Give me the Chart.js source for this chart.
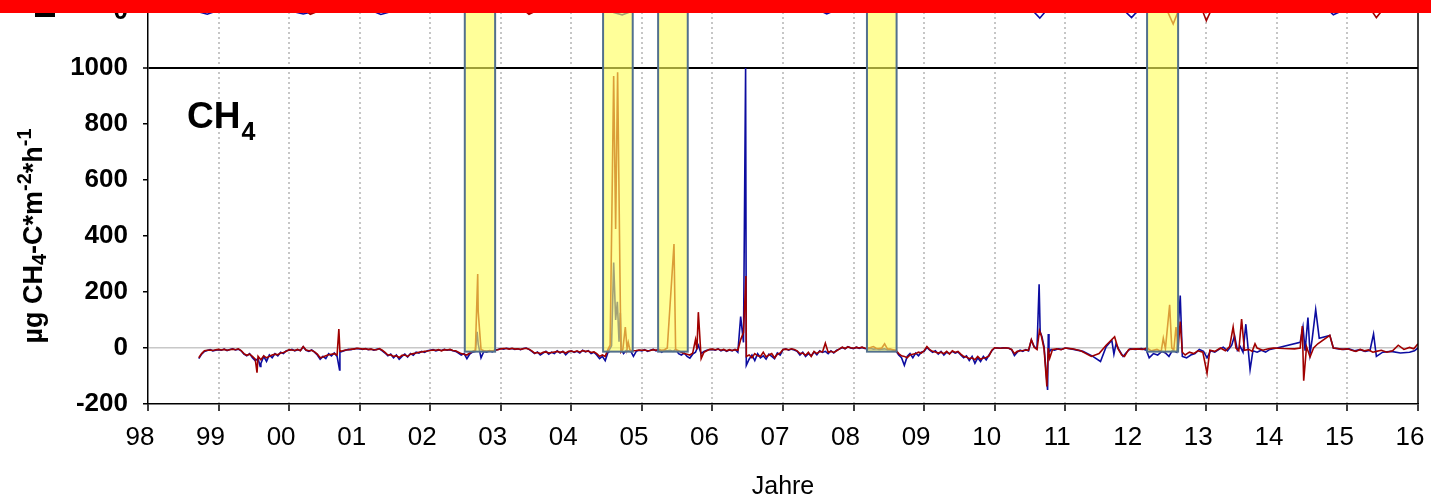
<!DOCTYPE html>
<html>
<head>
<meta charset="utf-8">
<title>CH4 Flüsse</title>
<script src="https://cdn.jsdelivr.net/npm/chart.js@4.4.1/dist/chart.umd.min.js"></script>
<style>
  html, body { margin: 0; padding: 0; background: #ffffff; }
  #chart { display: block; }
</style>
</head>
<body>
<canvas id="chart" width="1431" height="497"></canvas>
<script>
// ---- measurement dates (decimal years), dense period 1998-2010 ----
const datesDense = [
  1998.72,1998.76,1998.80,1998.84,1998.88,1998.92,1998.96,
  1999.00,1999.04,1999.08,1999.12,1999.16,1999.20,1999.24,1999.28,1999.32,1999.36,1999.40,1999.44,1999.48,1999.52,1999.56,1999.60,1999.64,1999.68,1999.72,1999.76,1999.80,1999.84,1999.88,1999.92,1999.96,
  2000.00,2000.04,2000.08,2000.12,2000.16,2000.20,2000.24,2000.28,2000.32,2000.36,2000.40,2000.44,2000.48,2000.52,2000.56,2000.60,2000.64,2000.68,2000.72,2000.76,2000.80,2000.84,2000.88,2000.92,2000.96,
  2001.00,2001.04,2001.08,2001.12,2001.16,2001.20,2001.24,2001.28,2001.32,2001.36,2001.40,2001.44,2001.48,2001.52,2001.56,2001.60,2001.64,2001.68,2001.72,2001.76,2001.80,2001.84,2001.88,2001.92,2001.96,
  2002.00,2002.04,2002.08,2002.12,2002.16,2002.20,2002.24,2002.28,2002.32,2002.36,2002.40,2002.44,2002.48,2002.52,2002.56,2002.60,2002.64,2002.68,2002.72,2002.76,2002.80,2002.84,2002.88,2002.92,2002.96,
  2003.00,2003.04,2003.08,2003.12,2003.16,2003.20,2003.24,2003.28,2003.32,2003.36,2003.40,2003.44,2003.48,2003.52,2003.56,2003.60,2003.64,2003.68,2003.72,2003.76,2003.80,2003.84,2003.88,2003.92,2003.96,
  2004.00,2004.04,2004.08,2004.12,2004.16,2004.20,2004.24,2004.28,2004.32,2004.36,2004.40,2004.44,2004.48,2004.52,2004.56,2004.60,2004.64,2004.68,2004.72,2004.76,2004.80,2004.84,2004.88,2004.92,2004.96,
  2005.00,2005.04,2005.08,2005.12,2005.16,2005.20,2005.24,2005.28,2005.32,2005.36,2005.40,2005.44,2005.48,2005.52,2005.56,2005.60,2005.64,2005.68,2005.72,2005.76,2005.80,2005.84,2005.88,2005.92,2005.96,
  2006.00,2006.04,2006.08,2006.12,2006.16,2006.20,2006.24,2006.28,2006.32,2006.36,2006.40,2006.44,2006.48,2006.52,2006.56,2006.60,2006.64,2006.68,2006.72,2006.76,2006.80,2006.84,2006.88,2006.92,2006.96,
  2007.00,2007.04,2007.08,2007.12,2007.16,2007.20,2007.24,2007.28,2007.32,2007.36,2007.40,2007.44,2007.48,2007.52,2007.56,2007.60,2007.64,2007.68,2007.72,2007.76,2007.80,2007.84,2007.88,2007.92,2007.96,
  2008.00,2008.04,2008.08,2008.12,2008.16,2008.20,2008.24,2008.28,2008.32,2008.36,2008.40,2008.44,2008.48,2008.52,2008.56,2008.60,2008.64,2008.68,2008.72,2008.76,2008.80,2008.84,2008.88,2008.92,2008.96,
  2009.00,2009.04,2009.08,2009.12,2009.16,2009.20,2009.24,2009.28,2009.32,2009.36,2009.40,2009.44,2009.48,2009.52,2009.56,2009.60,2009.64,2009.68,2009.72,2009.76,2009.80,2009.84,2009.88,2009.92,2009.96,
  2010.00,2010.04,2010.08,2010.12,2010.16,2010.20,2010.24,2010.28,2010.32,2010.36,2010.40,2010.44,2010.48
];

// CH4 flux (µg CH4-C m-2 h-1), blue series, on datesDense (null = taken from extras)
const blueDense = [
  -38,-22,-12,-9,-6,-10,-8,
  -6,-8,-4,-9,-5,-3,-7,-4,-10,-22,-28,-20,-35,-45,-38,-55,-30,-48,-25,-35,-20,-28,-15,-20,-10,
  -8,-5,-10,-6,-9,4,-8,-12,-7,-15,-25,-40,-30,-38,-20,-28,-18,-30,-15,-12,-8,-5,-6,-3,-2,
  -3,-5,-2,-6,-4,-8,-5,-3,-10,-18,-28,-22,-35,-25,-40,-30,-22,-32,-20,-26,-15,-18,-12,-16,-10,
  -8,-6,-10,-7,-9,-5,-8,-6,-10,-12,-18,-25,-20,-38,-22,-15,-12,15,-35,-12,-15,-10,-14,-8,-5,
  -2,-4,-1,-3,-2,-5,-3,-6,-2,0,-5,-12,-20,-14,-25,-18,-12,-22,-15,-20,-10,-18,-12,-24,-14,
  -10,-16,-12,-18,-8,-14,-10,-20,-15,-25,-38,-30,-45,-15,null,null,null,null,null,null,null,-10,-30,-12,-8,
  -10,-6,-12,-8,-5,-10,-6,-15,-8,-10,-8,-12,-5,-20,-25,-18,-30,-36,-22,-15,10,-20,-12,-8,-6,
  -5,-8,-3,-10,-6,-12,-7,-10,-5,-15,112,20,-62,-40,-25,-45,-20,-35,-28,-40,-22,-30,-38,-18,-25,
  -6,-3,-8,-4,-7,-12,-25,-15,-30,-20,-28,-14,-24,-10,-16,-12,-20,-10,-18,-8,-4,2,-3,5,0,
  -2,3,-1,2,-2,-3,-2,-4,-3,-5,-4,-3,-6,-5,-8,-10,-25,-35,-62,-30,-20,-35,-18,-28,-15,
  -12,2,-8,-15,-10,-22,-12,-25,-15,-20,-12,-18,-14,-25,-35,-28,-45,-30,-55,-35,-48,-30,-42,-25,-10,
  0,0,-1,1,0,-1,-6,-27,-15,-8,-12,-6,-10
];

// CH4 flux, red series, on datesDense
const redDense = [
  -35,-20,-10,-8,-7,-9,-6,
  -5,-7,-5,-8,-6,-4,-6,-3,-9,-20,-26,-22,-30,-40,-30,-42,-28,-35,-30,-25,-22,-24,-18,-16,-12,
  -6,-7,-9,-5,-10,5,-7,-10,-8,-14,-22,-35,-32,-28,-24,-22,-20,-25,-12,-10,-7,-6,-4,-4,-1,
  -2,-4,-3,-5,-4,-6,-6,-2,-8,-16,-25,-24,-30,-28,-34,-26,-25,-30,-22,-20,-18,-15,-14,-12,-11,
  -9,-7,-8,-6,-10,-6,-7,-5,-9,-10,-15,-20,-22,-25,-18,-12,-8,130,-5,-10,-12,-9,-11,-7,-6,
  -3,-2,-2,-4,-1,-4,-3,-5,-3,-1,-4,-10,-18,-16,-20,-15,-14,-18,-16,-14,-12,-15,-13,-18,-12,
  -11,-14,-10,-15,-9,-12,-11,-16,-14,-20,-30,-25,-30,-5,null,null,null,null,null,null,null,-8,-10,-9,-7,
  -8,-7,-10,-9,-6,-8,-5,-8,-6,0,null,null,null,-10,-15,-20,-22,-25,-18,30,128,-38,-15,-10,-5,
  -4,-6,-4,-8,-5,-10,-6,-9,-6,-8,30,55,-30,-25,-35,-20,-28,-30,-15,-32,-25,-20,-35,-22,-18,
  -5,-4,-6,-3,-5,-10,-20,-18,-26,-15,-30,-12,-20,-12,-14,17,-15,-12,-16,-10,-3,3,-2,4,1,
  -1,2,0,3,-1,0,2,5,-1,-2,0,15,-3,-4,-6,-8,-20,-28,-30,-35,-25,-22,-20,-15,-18,
  -10,5,-6,-12,-14,-18,-15,-20,-12,-22,-10,-16,-12,-22,-30,-32,-38,-35,-42,-30,-40,-36,-34,-28,-8,
  1,0,-1,0,1,-1,-5,-20,-12,-10,-9,-7,-8
];

// single peaks between regular dates and the sparser record from 2010.5 on: [year, flux]
const blueExtra = [
  [1999.59,-66],[2000.715,-78],[2002.665,58],
  [2004.53,-10],[2004.57,8],[2004.60,305],[2004.628,100],[2004.652,165],[2004.676,22],[2004.694,126],[2004.708,-5],[2004.74,-20],[2004.78,-8],[2004.82,-12],
  [2006.47,1000],
  [2010.52,28],[2010.56,5],[2010.60,-2],[2010.63,228],[2010.645,58],[2010.67,40],[2010.70,5],[2010.75,-150],[2010.76,50],[2010.77,-15],[2010.80,-5],[2010.85,-8],[2010.90,-3],[2010.95,-5],
  [2011.00,0],[2011.12,-5],[2011.25,-12],[2011.38,-28],[2011.50,-48],[2011.58,5],[2011.66,28],[2011.69,-22],[2011.72,15],[2011.77,-10],[2011.82,-30],[2011.87,-15],[2011.92,-3],
  [2012.00,-5],[2012.08,-2],[2012.15,-8],[2012.19,-35],[2012.25,-20],[2012.31,-25],[2012.37,-12],[2012.42,-18],[2012.47,-30],[2012.52,-8],[2012.58,-15],[2012.63,187],[2012.66,-30],[2012.72,-35],[2012.78,-25],[2012.84,-20],[2012.90,-5],[2012.96,-12],
  [2013.01,-35],[2013.06,-10],[2013.12,-15],[2013.18,-5],[2013.24,3],[2013.30,-10],[2013.36,10],[2013.40,44],[2013.44,-8],[2013.48,5],[2013.52,-15],[2013.56,85],[2013.62,-77],[2013.66,-10],[2013.72,-15],[2013.78,-8],[2013.84,-15],[2013.90,-5],
  [2014.00,0],[2014.33,20],[2014.37,75],[2014.40,-10],[2014.44,109],[2014.47,-20],[2014.50,32],[2014.55,137],[2014.60,35],[2014.75,45],[2014.80,0],[2014.88,-3],[2014.95,-5],
  [2015.02,-3],[2015.10,-10],[2015.18,-6],[2015.25,-12],[2015.32,-8],[2015.37,50],[2015.41,-30],[2015.50,-15],[2015.62,-12],[2015.75,-18],[2015.88,-15],[2015.95,-10],[2016.00,0]
];

const redExtra = [
  [1999.545,-88],[2000.705,68],[2002.673,264],
  [2004.55,10],[2004.60,971],[2004.628,425],[2004.656,985],[2004.689,268],[2004.703,-14],[2004.73,-5],[2004.765,75],[2004.79,-2],[2004.807,20],[2004.83,-6],
  [2005.455,371],[2005.478,-5],[2005.78,-5],
  [2006.475,257],
  [2010.52,30],[2010.56,3],[2010.60,-5],[2010.635,62],[2010.66,45],[2010.70,-3],[2010.74,-137],[2010.76,0],[2010.78,-36],[2010.82,-5],[2010.88,-3],[2010.94,-6],
  [2011.00,0],[2011.10,-3],[2011.22,-10],[2011.37,-30],[2011.48,-20],[2011.58,10],[2011.70,40],[2011.75,-3],[2011.80,-25],[2011.84,-30],[2011.90,-5],
  [2012.00,-3],[2012.10,-5],[2012.16,0],[2012.22,-10],[2012.30,-5],[2012.36,-12],[2012.39,35],[2012.42,-2],[2012.48,154],[2012.51,0],[2012.54,-5],[2012.57,75],[2012.60,0],[2012.63,94],[2012.66,-15],[2012.70,-25],[2012.76,-15],[2012.82,-20],[2012.88,-10],[2012.95,-15],
  [2013.01,-90],[2013.05,-8],[2013.12,-12],[2013.20,0],[2013.27,-10],[2013.33,5],[2013.38,75],[2013.42,0],[2013.46,-10],[2013.50,103],[2013.54,-8],[2013.60,-5],[2013.65,-12],[2013.69,15],[2013.72,0],[2013.80,-8],[2013.88,-3],[2013.95,0],
  [2014.10,-2],[2014.25,-3],[2014.33,0],[2014.36,78],[2014.38,-117],[2014.42,5],[2014.47,-32],[2014.52,0],[2014.58,15],[2014.75,45],[2014.80,0],[2014.86,-2],[2014.92,-5],
  [2015.00,-3],[2015.06,-8],[2015.12,-12],[2015.18,-5],[2015.24,-10],[2015.30,-7],[2015.36,-15],[2015.41,-12],[2015.48,-8],[2015.56,-15],[2015.64,-10],[2015.72,10],[2015.80,-5],[2015.88,2],[2015.94,-3],[2016.00,15]
];

// upper panel (its zero sits at 1200 on this axis): only the downward peaks reach into view
const upperBlue = [
  [1998.70,1202],[1998.84,1192],[1998.95,1202],[2000.05,1202],[2000.20,1193],[2000.35,1202],[2001.20,1202],[2001.30,1191],[2001.45,1202],
  [2004.55,1202],[2004.72,1190],[2004.85,1202],[2007.55,1202],[2007.62,1193],[2007.70,1202],[2010.55,1202],[2010.64,1178],[2010.72,1202],
  [2011.85,1202],[2011.94,1180],[2012.02,1202],[2014.75,1202],[2014.80,1190],[2014.90,1202],[2016.00,1202]
];
const upperRed = [
  [1998.70,1202],[2000.25,1202],[2000.30,1192],[2000.40,1202],[2003.35,1202],[2003.40,1192],[2003.48,1202],
  [2012.45,1202],[2012.53,1157],[2012.60,1202],[2012.95,1202],[2013.00,1169],[2013.06,1202],
  [2015.35,1202],[2015.41,1180],[2015.48,1202],[2016.00,1202]
];

// highlighted periods (start / end, decimal years)
const periodStart = [2002.49, 2004.45, 2005.23, 2008.19, 2012.16];
const periodEnd   = [2002.92, 2004.87, 2005.65, 2008.61, 2012.60];

// axis settings and labels
const yTicks = [-200, 0, 200, 400, 600, 800, 1000, 1200];
const xLabel = 'Jahre';
const panelLabel = ['CH', '4'];
const unitParts = [
  { text: 'µg CH', sub: 0 },
  { text: '4', sub: 1 },
  { text: '-C*m', sub: 0 },
  { text: '-2', sub: -1 },
  { text: '*h', sub: 0 },
  { text: '-1', sub: -1 }
];

const FONT = 'Arial, "Liberation Sans", Helvetica, sans-serif';

function buildSeries(dates, values, extra) {
  const pts = [];
  dates.forEach((d, i) => { if (values[i] !== null) pts.push({ x: d, y: values[i] }); });
  extra.forEach(([x, y]) => pts.push({ x, y }));
  return pts.sort((a, b) => a.x - b.x);
}
const toPoints = arr => arr.map(([x, y]) => ({ x, y }));

const overlayPlugin = {
  id: 'overlay',
  afterDatasetsDraw(chart) {
    const { ctx, chartArea: a, scales: { x, y } } = chart;
    ctx.save();
    ctx.beginPath();
    ctx.rect(a.left, a.top, a.right - a.left, a.bottom - a.top);
    ctx.clip();
    const yb = y.getPixelForValue(-13);
    const yt = a.top - 3;
    periodStart.forEach((s, i) => {
      const x1 = x.getPixelForValue(s);
      const x2 = x.getPixelForValue(periodEnd[i]);
      ctx.fillStyle = 'rgba(255,255,90,0.62)';
      ctx.fillRect(x1, yt, x2 - x1, yb - yt);
      ctx.strokeStyle = '#52708d';
      ctx.lineWidth = 2;
      ctx.strokeRect(x1, yt, x2 - x1, yb - yt);
    });
    ctx.restore();
  },
  afterDraw(chart) {
    const { ctx, chartArea: a, scales: { y } } = chart;
    ctx.save();
    // right frame line
    ctx.strokeStyle = '#000';
    ctx.lineWidth = 1.5;
    ctx.beginPath();
    ctx.moveTo(a.right, a.top);
    ctx.lineTo(a.right, a.bottom);
    ctx.stroke();

    // top bar
    ctx.fillStyle = '#ff0000';
    ctx.fillRect(0, 0, chart.width, 13);
    ctx.fillStyle = '#000';
    ctx.fillRect(35, 13, 20, 4);

    // panel label CH4
    ctx.fillStyle = '#000';
    ctx.textBaseline = 'alphabetic';
    ctx.textAlign = 'left';
    const lx = a.left + 39;
    const ly = y.getPixelForValue(786);
    ctx.font = `bold 37px ${FONT}`;
    ctx.fillText(panelLabel[0], lx, ly);
    const w = ctx.measureText(panelLabel[0]).width;
    ctx.font = `bold 25px ${FONT}`;
    ctx.fillText(panelLabel[1], lx + w + 1, ly + 12);

    // rotated unit title with sub/superscripts
    const cy = (y.getPixelForValue(1000) + y.getPixelForValue(-200)) / 2;
    ctx.translate(42, cy);
    ctx.rotate(-Math.PI / 2);
    let total = 0;
    unitParts.forEach(p => {
      p.size = p.sub === 0 ? 27 : 20;
      ctx.font = `bold ${p.size}px ${FONT}`;
      p.w = ctx.measureText(p.text).width;
      total += p.w;
    });
    let px = -total / 2;
    unitParts.forEach(p => {
      ctx.font = `bold ${p.size}px ${FONT}`;
      const dy = p.sub === 1 ? 4 : (p.sub === -1 ? -11 : 0);
      ctx.fillText(p.text, px, dy);
      px += p.w;
    });
    ctx.restore();
  }
};

new Chart(document.getElementById('chart'), {
  type: 'line',
  data: {
    datasets: [
      { label: 'rot', data: buildSeries(datesDense, redDense, redExtra), borderColor: '#a00000', borderWidth: 1.6, pointRadius: 0, tension: 0, order: 0 },
      { label: 'blau', data: buildSeries(datesDense, blueDense, blueExtra), borderColor: '#0c0ca0', borderWidth: 1.6, pointRadius: 0, tension: 0, order: 1 },
      { label: 'oben rot', data: toPoints(upperRed), borderColor: '#a00000', borderWidth: 1.6, pointRadius: 0, tension: 0, order: 2 },
      { label: 'oben blau', data: toPoints(upperBlue), borderColor: '#0c0ca0', borderWidth: 1.6, pointRadius: 0, tension: 0, order: 3 }
    ]
  },
  options: {
    responsive: false,
    animation: false,
    devicePixelRatio: 1,
    events: [],
    layout: { padding: { left: 0, right: 13, top: 12, bottom: 0 } },
    plugins: { legend: { display: false }, tooltip: { enabled: false } },
    scales: {
      x: {
        type: 'linear',
        min: 1998,
        max: 2016,
        afterFit(s) { s.height = 93; s.paddingLeft = 0; s.paddingRight = 0; },
        ticks: {
          stepSize: 1,
          autoSkip: false,
          maxRotation: 0,
          labelOffset: -8,
          padding: 11,
          color: '#000',
          font: { family: FONT, size: 26 },
          callback: v => String(Math.round(v) % 100).padStart(2, '0')
        },
        grid: {
          color: c => (c.tick && (c.tick.value === 1998 || c.tick.value === 2016)) ? 'rgba(0,0,0,0)' : '#c6c6c6',
          lineWidth: 2,
          tickColor: '#000',
          tickLength: 7,
          tickWidth: 1.5
        },
        border: { color: '#000', width: 1.5, dash: [2, 3] },
        title: { display: true, text: xLabel, color: '#000', font: { family: FONT, size: 25 }, padding: { top: 0, bottom: -5 } }
      },
      y: {
        min: -200,
        max: 1200,
        afterFit(s) { s.width = 148; s.paddingTop = 0; s.paddingBottom = 0; },
        afterBuildTicks(s) { s.ticks = yTicks.map(v => ({ value: v })); },
        ticks: {
          padding: 15,
          color: '#000',
          font: { family: FONT, size: 26, weight: 'bold' },
          callback: v => (v === 1200 ? '0' : String(v))
        },
        grid: {
          color: c => (c.tick && c.tick.value === 0) ? '#c8c8c8' : (c.tick && c.tick.value === 1000) ? '#000' : 'rgba(0,0,0,0)',
          lineWidth: c => (c.tick && c.tick.value === 1000) ? 2 : 1.5,
          tickColor: '#000',
          tickLength: 5,
          tickWidth: 1.5
        },
        border: { color: '#000', width: 1.5 }
      }
    }
  },
  plugins: [overlayPlugin]
});
</script>
</body>
</html>
